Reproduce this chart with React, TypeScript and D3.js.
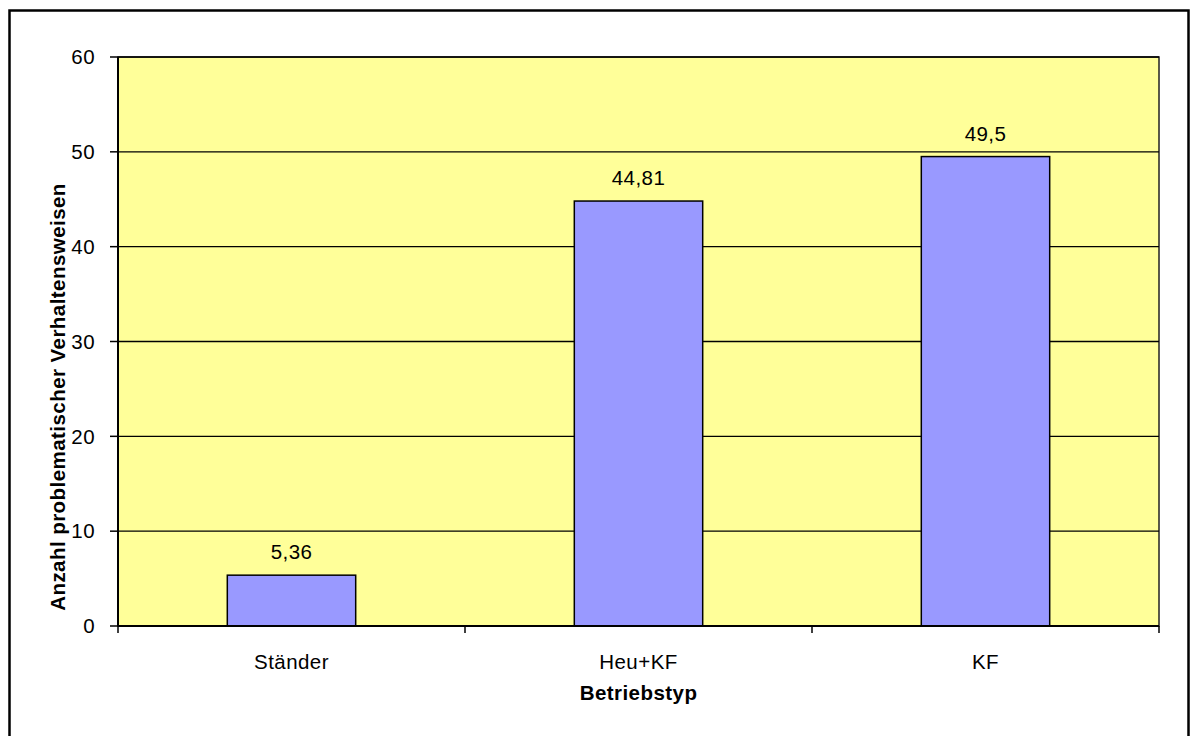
import React from "react";
import * as d3 from "d3";

const categories = ["Ständer", "Heu+KF", "KF"];
const values = [5.36, 44.81, 49.5];
const valueLabels = ["5,36", "44,81", "49,5"];
const yTicks = [0, 10, 20, 30, 40, 50, 60];

const W = 1191;
const H = 736;
const plot = { left: 118, right: 1159, top: 57, bottom: 626 };
const FONT = "Arial, 'Liberation Sans', Helvetica, sans-serif";
const FS = 20.5;
const LS = 0.45;

export default function App() {
  const x = d3
    .scaleBand<string>()
    .domain(categories)
    .range([plot.left, plot.right])
    .paddingInner(0.63)
    .paddingOuter(0.315);
  const xb = d3.scaleBand<string>().domain(categories).range([plot.left, plot.right]);
  const y = d3.scaleLinear().domain([0, 60]).range([plot.bottom, plot.top]);
  const boundaries = [plot.left, ...categories.map((c) => (xb(c) as number) + xb.bandwidth())];

  return (
    <svg
      width={W}
      height={H}
      style={{ position: "absolute", left: 0, top: 0, background: "#fff" }}
      fontFamily={FONT}
      letterSpacing={LS}
    >
      <rect x={9.5} y={10.5} width={1179} height={760} fill="#fff" stroke="#000" strokeWidth={2.5} />
      <rect
        x={plot.left}
        y={plot.top}
        width={plot.right - plot.left}
        height={plot.bottom - plot.top}
        fill="#FFFF99"
        stroke="#222"
        strokeWidth={1.5}
      />
      {yTicks.slice(1).map((t) => (
        <line key={t} x1={plot.left} x2={plot.right} y1={y(t)} y2={y(t)} stroke="#000" strokeWidth={1.3} />
      ))}
      {categories.map((c, i) => (
        <rect
          key={c}
          x={x(c)}
          y={y(values[i])}
          width={x.bandwidth()}
          height={y(0) - y(values[i])}
          fill="#9999FF"
          stroke="#000"
          strokeWidth={1.5}
        />
      ))}
      {categories.map((c, i) => (
        <text
          key={c + "l"}
          x={(x(c) as number) + x.bandwidth() / 2}
          y={y(values[i]) - 16}
          textAnchor="middle"
          fontSize={FS}
          fill="#000"
        >
          {valueLabels[i]}
        </text>
      ))}
      {/* axes */}
      <line x1={plot.left} x2={plot.left} y1={plot.top} y2={plot.bottom} stroke="#000" strokeWidth={2} />
      <line x1={plot.left} x2={plot.right} y1={plot.bottom} y2={plot.bottom} stroke="#000" strokeWidth={2} />
      {yTicks.map((t) => (
        <g key={"yt" + t}>
          <line x1={plot.left - 8} x2={plot.left} y1={y(t)} y2={y(t)} stroke="#000" strokeWidth={1.5} />
          <text x={plot.left - 23} y={y(t)} dy="0.35em" textAnchor="end" fontSize={FS}>
            {t}
          </text>
        </g>
      ))}
      {boundaries.map((b, i) => (
        <line key={"xt" + i} x1={b} x2={b} y1={plot.bottom} y2={plot.bottom + 7} stroke="#000" strokeWidth={1.5} />
      ))}
      {categories.map((c) => (
        <text
          key={c + "x"}
          x={(xb(c) as number) + xb.bandwidth() / 2}
          y={plot.bottom + 43}
          textAnchor="middle"
          fontSize={FS}
        >
          {c}
        </text>
      ))}
      <text x={(plot.left + plot.right) / 2} y={plot.bottom + 74} textAnchor="middle" fontSize={FS} fontWeight="bold">
        Betriebstyp
      </text>
      <text
        transform={`translate(65, 397) rotate(-90)`}
        textAnchor="middle"
        fontSize={FS}
        fontWeight="bold"
      >
        Anzahl problematischer Verhaltensweisen
      </text>
    </svg>
  );
}
